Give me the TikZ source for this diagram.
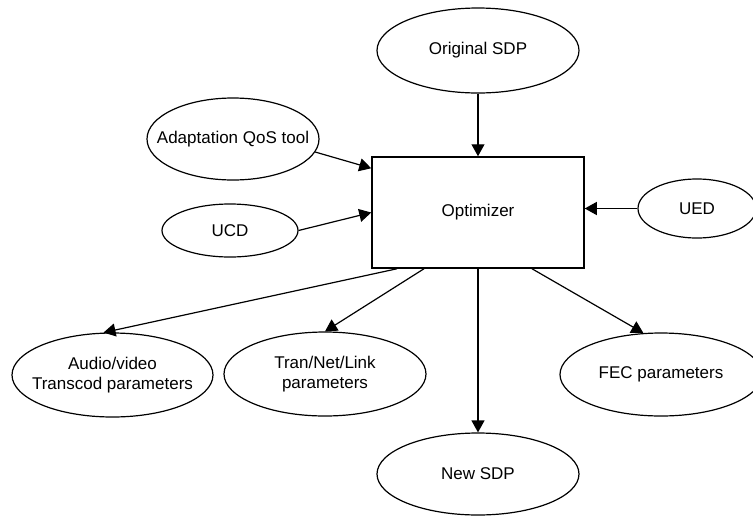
\documentclass[tikz,border=0pt]{standalone}
\usepackage{fontspec}
\setmainfont{Liberation Sans}
\usetikzlibrary{arrows.meta,positioning,shapes.geometric}

\begin{document}
\begin{tikzpicture}[>={Triangle[length=12pt,width=13pt]}, line width=1.2pt, on grid]
	\tikzset{block/.style={draw,rectangle,minimum width=212pt,minimum height=111pt,inner sep=0pt,line width=1.5pt,font=\fontsize{17}{20}\selectfont},
		ellip/.style={draw,ellipse,inner xsep=-30pt,inner ysep=0pt,align=center,font=\fontsize{17}{20}\selectfont}}
	\useasboundingbox (0,0) rectangle (753pt,-515pt);
	\node [block] (opt) at (478pt,-212.5pt) {Optimizer};
	\node [ellip, minimum width=202pt, minimum height=85pt, above=162pt of opt] (orig) {Original SDP};
	\node [ellip, minimum width=172pt, minimum height=82pt, above left=73.5pt and 245pt of opt] (adapt) {Adaptation QoS tool};
	\node [ellip, minimum width=136pt, minimum height=53pt, below left=18pt and 248pt of opt] (ucd) {UCD};
	\node [ellip, minimum width=118pt, minimum height=59pt, above right=4pt and 219pt of opt] (ued) {UED};
	\node [ellip, minimum width=201pt, minimum height=84pt, below left=162.5pt and 365.5pt of opt] (audio) {Audio/video\\Transcod parameters};
	\node [ellip, minimum width=202pt, minimum height=84pt, below left=161.5pt and 153pt of opt] (tran) {Tran/Net/Link\\parameters};
	\node [ellip, minimum width=202pt, minimum height=82pt, below=261.5pt of opt] (newsdp) {New SDP};
	\node [ellip, minimum width=202pt, minimum height=83pt, below right=162pt and 183pt of opt] (fec) {FEC parameters};
	\path[->] (orig) edge (opt)
				(adapt.-9) edge ([yshift=-12pt]opt.north west)
				(ucd.east) edge (opt.west)
				(ued.west) edge (ued.west -| opt.east)
				([xshift=-81pt]opt.south) edge (audio.102)
				([xshift=-54pt]opt.south) edge (tran.north)
				(opt) edge (newsdp)
				([xshift=54pt]opt.south) edge (fec.113);
\end{tikzpicture}
\end{document}
